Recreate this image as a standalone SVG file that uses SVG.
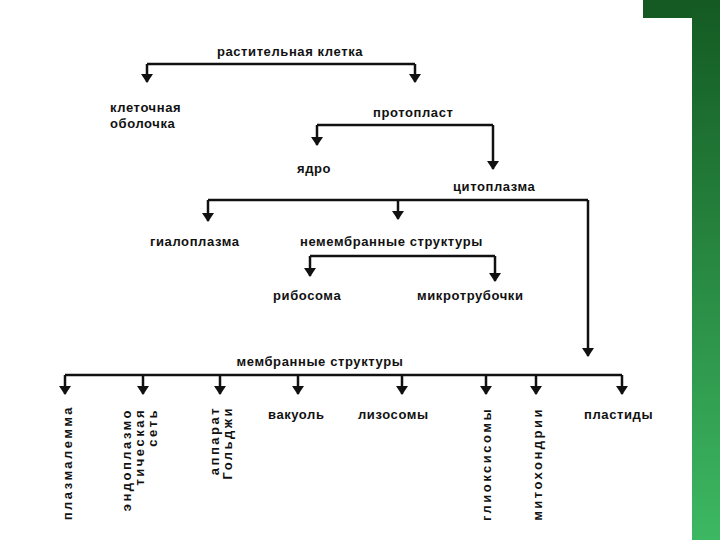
<svg xmlns="http://www.w3.org/2000/svg" width="720" height="540" viewBox="0 0 720 540">
<defs>
<linearGradient id="g" x1="0" y1="0" x2="0" y2="1"><stop offset="0" stop-color="#145a22"/><stop offset="1" stop-color="#3db862"/></linearGradient>
<marker id="a" markerWidth="12" markerHeight="12" refX="6" refY="10" orient="0" markerUnits="userSpaceOnUse" viewBox="0 0 12 12"><path d="M0,2 L12,2 L6,11 Z" fill="#111"/></marker>
<style>
text{font-family:"Liberation Sans",Arial,sans-serif;font-weight:bold;font-size:13px;letter-spacing:0.6px;fill:#111}
.c{fill:none;stroke:#111;stroke-width:2.5}
.v{text-anchor:end;letter-spacing:2.5px}
</style>
</defs>
<rect width="720" height="540" fill="#fff"/>
<rect x="643" y="0" width="77" height="18" fill="#145a22"/>
<rect x="692" y="0" width="28" height="540" fill="url(#g)"/>
<g id="connectors">
<path class="c" d="M147,64 H415"/>
<path class="c" d="M147,64 V82" marker-end="url(#a)"/>
<path class="c" d="M415,64 V82" marker-end="url(#a)"/>
<path class="c" d="M317,125 H493"/>
<path class="c" d="M317,125 V145" marker-end="url(#a)"/>
<path class="c" d="M493,125 V169" marker-end="url(#a)"/>
<path class="c" d="M208,200 H588"/>
<path class="c" d="M208,200 V221" marker-end="url(#a)"/>
<path class="c" d="M398,200 V219" marker-end="url(#a)"/>
<path class="c" d="M588,200 V356" marker-end="url(#a)"/>
<path class="c" d="M310,256 H495"/>
<path class="c" d="M310,256 V276" marker-end="url(#a)"/>
<path class="c" d="M495,256 V281" marker-end="url(#a)"/>
<path class="c" d="M65,375 H622"/>
<path class="c" d="M65,375 V394" marker-end="url(#a)"/>
<path class="c" d="M143,375 V394" marker-end="url(#a)"/>
<path class="c" d="M220,375 V394" marker-end="url(#a)"/>
<path class="c" d="M298,375 V394" marker-end="url(#a)"/>
<path class="c" d="M402,375 V394" marker-end="url(#a)"/>
<path class="c" d="M486,375 V394" marker-end="url(#a)"/>
<path class="c" d="M536,375 V394" marker-end="url(#a)"/>
<path class="c" d="M622,375 V394" marker-end="url(#a)"/>
</g>
<g id="n1"><text x="290" y="56" text-anchor="middle">растительная  клетка</text></g>
<g id="n2"><text x="110" y="112">клеточная</text><text x="110" y="128">оболочка</text></g>
<g id="n3"><text x="373" y="117">протопласт</text></g>
<g id="n4"><text x="297" y="173">ядро</text></g>
<g id="n5"><text x="453" y="191">цитоплазма</text></g>
<g id="n6"><text x="150" y="246">гиалоплазма</text></g>
<g id="n7"><text x="300" y="246">немембранные структуры</text></g>
<g id="n8"><text x="273" y="300">рибосома</text></g>
<g id="n9"><text x="417" y="300">микротрубочки</text></g>
<g id="n10"><text x="320" y="366" text-anchor="middle">мембранные  структуры</text></g>
<g id="n11"><text class="v" transform="translate(72,405) rotate(-90)">плазмалемма</text></g>
<g id="n12"><text class="v" transform="translate(131,408) rotate(-90)">эндоплазмо</text><text class="v" transform="translate(144,408) rotate(-90)">тическая</text><text class="v" transform="translate(157,408) rotate(-90)">сеть</text></g>
<g id="n13"><text class="v" transform="translate(219,406) rotate(-90)">аппарат</text><text class="v" transform="translate(232,406) rotate(-90)">Гольджи</text></g>
<g id="n14"><text x="268" y="419">вакуоль</text></g>
<g id="n15"><text x="358" y="419">лизосомы</text></g>
<g id="n16"><text class="v" transform="translate(491,407) rotate(-90)">глиоксисомы</text></g>
<g id="n17"><text class="v" transform="translate(542,407) rotate(-90)">митохондрии</text></g>
<g id="n18"><text x="584" y="419">пластиды</text></g>
</svg>
